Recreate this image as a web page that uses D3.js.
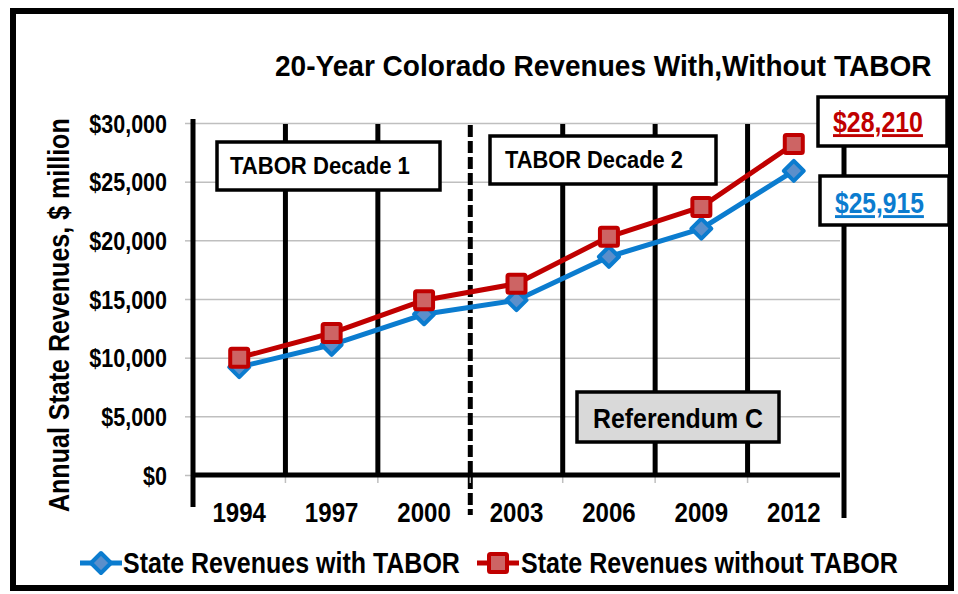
<!DOCTYPE html>
<html>
<head>
<meta charset="utf-8">
<script src="https://cdn.jsdelivr.net/npm/d3@7"></script>
<style>
  body { margin: 0; background: #fff; }
  text { font-family: "Liberation Sans", Arial, sans-serif; font-weight: bold; }
</style>
</head>
<body>
<div id="chart"></div>
<script>
const years = ['1994', '1997', '2000', '2003', '2006', '2009', '2012'];
const withTabor = [9200, 11100, 13700, 14900, 18600, 21000, 25915];
const withoutTabor = [10000, 12100, 14900, 16300, 20300, 22850, 28210];
const yTicks = [0, 5000, 10000, 15000, 20000, 25000, 30000];
const yTickLabels = ['$0', '$5,000', '$10,000', '$15,000', '$20,000', '$25,000', '$30,000'];
const seriesNames = ['State Revenues with TABOR', 'State Revenues without TABOR'];
const endLabels = ['$25,915', '$28,210'];

const width = 958;
const height = 594;
const margin = { top: 123, bottom: 119, left: 193, right: 118 };

const blue = '#0B7CCF';
const red = '#C00000';

const svg = d3.select('#chart')
    .append('svg')
    .attr('width', width)
    .attr('height', height);

// squeeze a text horizontally around its anchor (no narrow font installed)
function narrow(sel, s) {
    sel.each(function () {
        const ax = +this.getAttribute('x') || 0;
        const k = typeof s === 'function' ? s(this) : s;
        this.setAttribute('transform', `translate(${ax * (1 - k)},0) scale(${k},1)`);
    });
}
function fitTo(w) {
    return node => Math.min(1, w / node.getComputedTextLength());
}

// outer frame
svg.append('rect')
    .attr('x', 13).attr('y', 11)
    .attr('width', 938).attr('height', 577)
    .attr('fill', '#fff')
    .attr('stroke', '#000')
    .attr('stroke-width', 6);

const x = d3.scaleBand()
    .domain(years)
    .range([margin.left, width - margin.right])
    .paddingInner(0)
    .paddingOuter(0);

const y = d3.scaleLinear()
    .domain([0, 30000])
    .range([height - margin.bottom, margin.top]);

const x0 = x.range()[0], x1 = x.range()[1];

// y tick marks and labels
svg.append('g')
    .attr('transform', `translate(${x0},0)`)
    .call(d3.axisLeft(y).tickValues(yTicks).tickSize(8).tickPadding(18)
        .tickFormat((d, i) => yTickLabels[i]))
    .call(g => g.select('.domain').remove())
    .call(g => g.selectAll('line').attr('stroke', '#BFBFBF').attr('stroke-width', 1.5))
    .call(g => g.selectAll('text').attr('font-size', 25).attr('fill', '#000').attr('dy', '0.36em'))
    .call(g => narrow(g.selectAll('text'), 0.86));

// gray horizontal gridlines
svg.append('g')
    .attr('transform', `translate(${x0},0)`)
    .call(d3.axisLeft(y).tickValues(yTicks).tickSize(-(x1 - x0)).tickFormat(''))
    .call(g => g.select('.domain').remove())
    .call(g => g.selectAll('line').attr('stroke', '#BFBFBF').attr('stroke-width', 1.5));

// black vertical dividers between categories
const dividers = years.slice(1);
svg.append('g')
    .selectAll('line')
    .data(dividers)
    .join('line')
    .attr('x1', d => x(d)).attr('x2', d => x(d))
    .attr('y1', d => d === '2003' ? y(30000) + 2 : y(30000) + 1)
    .attr('y2', d => d === '2003' ? y(0) + 40 : y(0))
    .attr('stroke', '#000')
    .attr('stroke-width', 5)
    .attr('stroke-dasharray', d => d === '2003' ? '12,4' : null);

// small gray ticks below the axis
svg.append('g')
    .selectAll('line')
    .data(dividers)
    .join('line')
    .attr('x1', d => x(d)).attr('x2', d => x(d))
    .attr('y1', y(0)).attr('y2', y(0) + 8)
    .attr('stroke', '#BFBFBF')
    .attr('stroke-width', 1.5);

// axis lines
svg.append('line')
    .attr('x1', x0).attr('x2', x0)
    .attr('y1', y(30000) - 4).attr('y2', y(0) + 32)
    .attr('stroke', '#000').attr('stroke-width', 5);
svg.append('line')
    .attr('x1', x0).attr('x2', x1)
    .attr('y1', y(0)).attr('y2', y(0))
    .attr('stroke', '#000').attr('stroke-width', 5);
svg.append('line')
    .attr('x1', x1 + 4).attr('x2', x1 + 4)
    .attr('y1', 100).attr('y2', y(0) + 43)
    .attr('stroke', '#000').attr('stroke-width', 5);

// x labels
svg.append('g')
    .attr('transform', `translate(0,${y(0)})`)
    .call(d3.axisBottom(x).tickSize(0).tickPadding(27))
    .call(g => g.select('.domain').remove())
    .call(g => g.selectAll('text').attr('font-size', 28).attr('fill', '#000'))
    .call(g => narrow(g.selectAll('text'), 0.86));

// lines
const line = d3.line()
    .x((d, i) => x(years[i]) + x.bandwidth() / 2)
    .y(d => y(d));

svg.append('path')
    .datum(withTabor)
    .attr('fill', 'none')
    .attr('stroke', blue)
    .attr('stroke-width', 5)
    .attr('stroke-linejoin', 'round')
    .attr('d', line);

svg.append('path')
    .datum(withoutTabor)
    .attr('fill', 'none')
    .attr('stroke', red)
    .attr('stroke-width', 5)
    .attr('stroke-linejoin', 'round')
    .attr('d', line);

function diamond(g, cx, cy) {
    g.append('path')
        .attr('d', `M${cx},${cy - 10}L${cx + 10},${cy}L${cx},${cy + 10}L${cx - 10},${cy}Z`)
        .attr('fill', '#5B8FCB')
        .attr('stroke', blue)
        .attr('stroke-width', 4)
        .attr('stroke-linejoin', 'round');
}
function square(g, cx, cy) {
    g.append('rect')
        .attr('x', cx - 9).attr('y', cy - 9)
        .attr('width', 18).attr('height', 18)
        .attr('fill', '#CD6464')
        .attr('stroke', red)
        .attr('stroke-width', 4)
        .attr('rx', 1.5);
}

const markers = svg.append('g');
withTabor.forEach((v, i) => diamond(markers, x(years[i]) + x.bandwidth() / 2, y(v)));
withoutTabor.forEach((v, i) => square(markers, x(years[i]) + x.bandwidth() / 2, y(v)));

// annotation boxes
function box(bx, by, bw, bh, label, opts) {
    svg.append('rect')
        .attr('x', bx).attr('y', by)
        .attr('width', bw).attr('height', bh)
        .attr('fill', opts.fill || '#fff')
        .attr('stroke', '#000')
        .attr('stroke-width', 3.5);
    const t = svg.append('text')
        .attr('x', opts.tx).attr('y', opts.ty)
        .attr('font-size', opts.size)
        .attr('fill', opts.color || '#000')
        .attr('text-decoration', opts.underline ? 'underline' : null)
        .text(label);
    narrow(t, fitTo(opts.len));
}

box(217, 142, 223, 48, 'TABOR Decade 1', { tx: 230, ty: 174, size: 24, len: 180 });
box(490, 136, 226, 48, 'TABOR Decade 2', { tx: 505, ty: 168, size: 24, len: 178 });
box(577, 392, 202, 50, 'Referendum C', { tx: 593, ty: 428, size: 28, len: 170, fill: '#D9D9D9' });
box(818, 97, 129, 49, endLabels[1], { tx: 833, ty: 132, size: 29, len: 90, color: red, underline: true });
box(820, 176, 129, 49, endLabels[0], { tx: 835, ty: 213, size: 29, len: 89, color: blue, underline: true });

// title
const title = svg.append('text')
    .attr('x', 275).attr('y', 76)
    .attr('font-size', 30)
    .attr('fill', '#000')
    .text('20-Year Colorado Revenues With,Without TABOR');
narrow(title, fitTo(657));

// y axis title
const yTitle = svg.append('text')
    .attr('font-size', 29)
    .attr('fill', '#000')
    .text('Annual State Revenues, $ million');
const ys = fitTo(394)(yTitle.node());
yTitle.attr('transform', `translate(69,512) rotate(-90) scale(${ys},1)`);

// legend
const legend = svg.append('g');
const legendItems = [
    { name: seriesNames[0], x: 80, tx: 123, len: 337, color: blue, mark: diamond },
    { name: seriesNames[1], x: 477, tx: 521, len: 377, color: red, mark: square }
];
legendItems.forEach(d => {
    legend.append('line')
        .attr('x1', d.x).attr('x2', d.x + 42)
        .attr('y1', 563).attr('y2', 563)
        .attr('stroke', d.color).attr('stroke-width', 5);
    d.mark(legend, d.x + 21, 563);
    const t = legend.append('text')
        .attr('x', d.tx).attr('y', 573)
        .attr('font-size', 29)
        .attr('fill', '#000')
        .text(d.name);
    narrow(t, fitTo(d.len));
});
</script>
</body>
</html>
